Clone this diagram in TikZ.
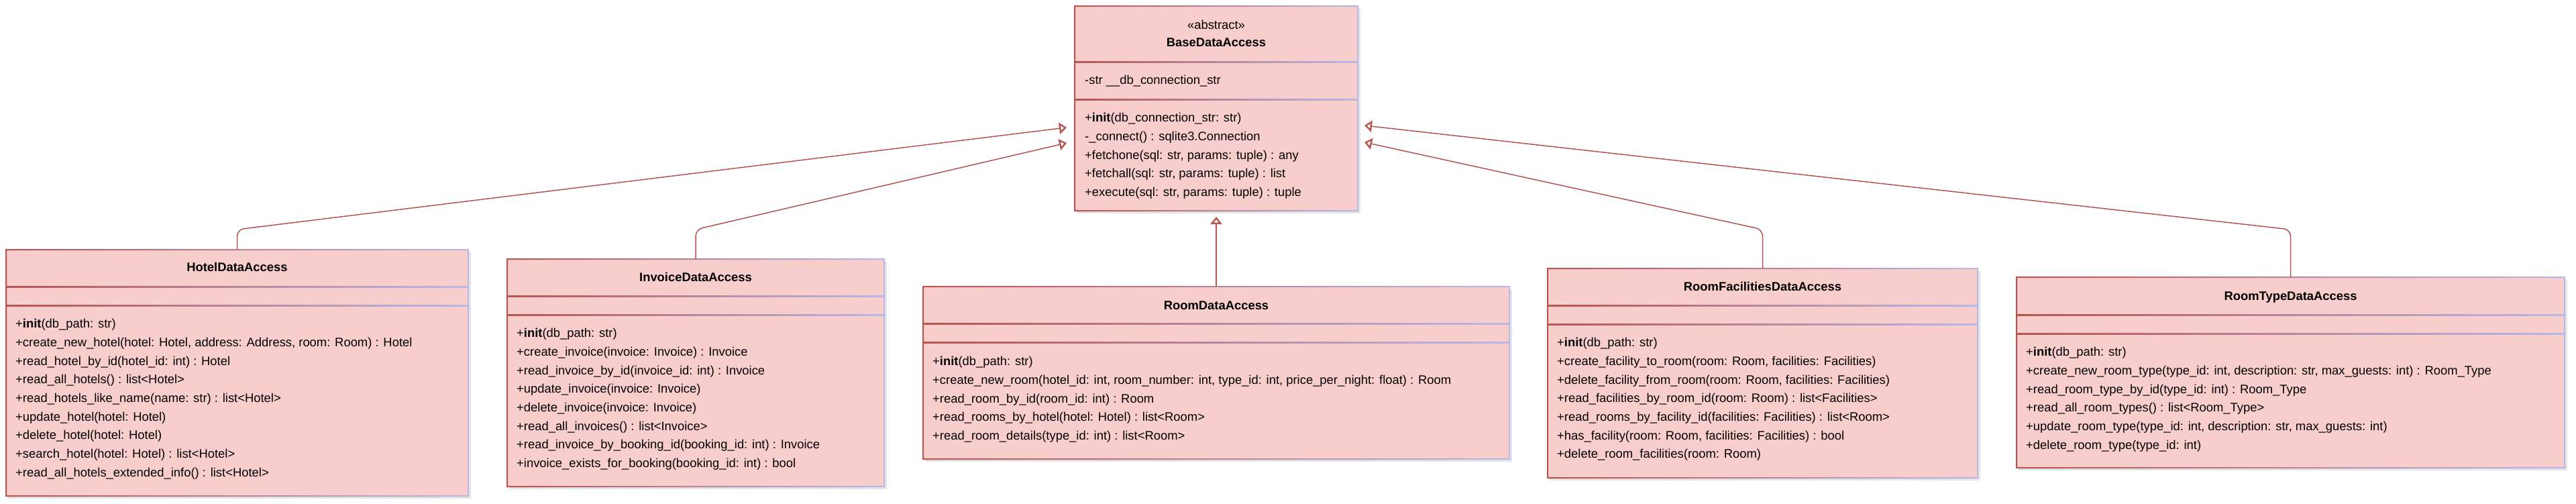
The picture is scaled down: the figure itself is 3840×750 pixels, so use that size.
\documentclass[tikz,border=0pt]{standalone}
\usepackage{fontspec}
\setmainfont{Liberation Sans}
\usetikzlibrary{arrows.meta}
\definecolor{cfill}{HTML}{F8CECC}
\definecolor{cstroke}{HTML}{B85450}
\definecolor{clav}{HTML}{B8B8E8}
\tikzset{
  classbox/.style={draw=none, fill=cfill, inner sep=0pt, outer sep=0pt, anchor=north west},
  mtext/.style={inner sep=0pt, anchor=base west, font=\fontsize{18.4}{27.7}\selectfont},
  ttext/.style={inner sep=0pt, anchor=base, font=\fontsize{18.4}{27.7}\selectfont\bfseries},
  inherit/.style={draw=cstroke, line width=1.5pt, rounded corners=10pt,
    -{Triangle[open, length=11pt, width=17pt, line width=2.4pt]}},
}
% name, x1, y1, x2, y2, div1, div2
\newcommand\classframe[7]{%
  \fill[black, opacity=0.10] (#2+3,#3+4) rectangle (#4+4,#5+4);
  \node[classbox, minimum width={(#4-#2)*1pt}, minimum height={(#5-#3)*1pt}] (#1) at (#2,#3) {};
  \shade[left color=cstroke, right color=clav] (#2,#6-1) rectangle (#4,#6+1);
  \shade[left color=cstroke, right color=clav] (#2,#7-1) rectangle (#4,#7+1);
  \shade[left color=cstroke, right color=clav, even odd rule]
    (#2-1,#3-1) rectangle (#4+1,#5+1) (#2+1,#3+1) rectangle (#4-1,#5-1);
}
\newcommand\ml[5]{\node[mtext] (#1) at (#2,{#3+#4*27.7}) {#5};}
\begin{document}
\begin{tikzpicture}[x=1pt,y=-1pt]
\useasboundingbox[fill=white] (0,0) rectangle (3840,750);

% ---------- BaseDataAccess ----------
\classframe{base}{1602}{9}{2024}{314}{92}{148}
\node[mtext, anchor=base] (bst) at (1813,43.6) {«abstract»};
\node[ttext] (bt) at (1813,69.6) {BaseDataAccess};
\ml{ba}{1617}{125.6}{0}{-str \_\_db\_connection\_str}
\ml{bm1}{1617}{181.6}{0}{+\textbf{init}(db\_connection\_str: str)}
\ml{bm2}{1617}{181.6}{1}{-\_connect() : sqlite3.Connection}
\ml{bm3}{1617}{181.6}{2}{+fetchone(sql: str, params: tuple) : any}
\ml{bm4}{1617}{181.6}{3}{+fetchall(sql: str, params: tuple) : list}
\ml{bm5}{1617}{181.6}{4}{+execute(sql: str, params: tuple) : tuple}

% ---------- HotelDataAccess ----------
\classframe{hotel}{9}{372}{698}{739}{427}{455}
\node[ttext] (ht) at (353.5,404.6) {HotelDataAccess};
\ml{hm1}{23}{488.6}{0}{+\textbf{init}(db\_path: str)}
\ml{hm2}{23}{488.6}{1}{+create\_new\_hotel(hotel: Hotel, address: Address, room: Room) : Hotel}
\ml{hm3}{23}{488.6}{2}{+read\_hotel\_by\_id(hotel\_id: int) : Hotel}
\ml{hm4}{23}{488.6}{3}{+read\_all\_hotels() : list<Hotel>}
\ml{hm5}{23}{488.6}{4}{+read\_hotels\_like\_name(name: str) : list<Hotel>}
\ml{hm6}{23}{488.6}{5}{+update\_hotel(hotel: Hotel)}
\ml{hm7}{23}{488.6}{6}{+delete\_hotel(hotel: Hotel)}
\ml{hm8}{23}{488.6}{7}{+search\_hotel(hotel: Hotel) : list<Hotel>}
\ml{hm9}{23}{488.6}{8}{+read\_all\_hotels\_extended\_info() : list<Hotel>}

% ---------- InvoiceDataAccess ----------
\classframe{invoice}{756}{386}{1318}{725}{441}{469}
\node[ttext] (it) at (1037,419.6) {InvoiceDataAccess};
\ml{im1}{770}{502.6}{0}{+\textbf{init}(db\_path: str)}
\ml{im2}{770}{502.6}{1}{+create\_invoice(invoice: Invoice) : Invoice}
\ml{im3}{770}{502.6}{2}{+read\_invoice\_by\_id(invoice\_id: int) : Invoice}
\ml{im4}{770}{502.6}{3}{+update\_invoice(invoice: Invoice)}
\ml{im5}{770}{502.6}{4}{+delete\_invoice(invoice: Invoice)}
\ml{im6}{770}{502.6}{5}{+read\_all\_invoices() : list<Invoice>}
\ml{im7}{770}{502.6}{6}{+read\_invoice\_by\_booking\_id(booking\_id: int) : Invoice}
\ml{im8}{770}{502.6}{7}{+invoice\_exists\_for\_booking(booking\_id: int) : bool}

% ---------- RoomDataAccess ----------
\classframe{room}{1376}{427}{2250}{684}{482}{510}
\node[ttext] (rt) at (1813,461.6) {RoomDataAccess};
\ml{rm1}{1390}{544.6}{0}{+\textbf{init}(db\_path: str)}
\ml{rm2}{1390}{544.6}{1}{+create\_new\_room(hotel\_id: int, room\_number: int, type\_id: int, price\_per\_night: float) : Room}
\ml{rm3}{1390}{544.6}{2}{+read\_room\_by\_id(room\_id: int) : Room}
\ml{rm4}{1390}{544.6}{3}{+read\_rooms\_by\_hotel(hotel: Hotel) : list<Room>}
\ml{rm5}{1390}{544.6}{4}{+read\_room\_details(type\_id: int) : list<Room>}

% ---------- RoomFacilitiesDataAccess ----------
\classframe{facil}{2307}{400}{2948}{712}{455}{483}
\node[ttext] (ft) at (2627.5,433.6) {RoomFacilitiesDataAccess};
\ml{fm1}{2321}{516.6}{0}{+\textbf{init}(db\_path: str)}
\ml{fm2}{2321}{516.6}{1}{+create\_facility\_to\_room(room: Room, facilities: Facilities)}
\ml{fm3}{2321}{516.6}{2}{+delete\_facility\_from\_room(room: Room, facilities: Facilities)}
\ml{fm4}{2321}{516.6}{3}{+read\_facilities\_by\_room\_id(room: Room) : list<Facilities>}
\ml{fm5}{2321}{516.6}{4}{+read\_rooms\_by\_facility\_id(facilities: Facilities) : list<Room>}
\ml{fm6}{2321}{516.6}{5}{+has\_facility(room: Room, facilities: Facilities) : bool}
\ml{fm7}{2321}{516.6}{6}{+delete\_room\_facilities(room: Room)}

% ---------- RoomTypeDataAccess ----------
\classframe{rtype}{3006}{413}{3823}{697}{469}{497}
\node[ttext] (tt) at (3414.5,447.6) {RoomTypeDataAccess};
\ml{tm1}{3020}{530.6}{0}{+\textbf{init}(db\_path: str)}
\ml{tm2}{3020}{530.6}{1}{+create\_new\_room\_type(type\_id: int, description: str, max\_guests: int) : Room\_Type}
\ml{tm3}{3020}{530.6}{2}{+read\_room\_type\_by\_id(type\_id: int) : Room\_Type}
\ml{tm4}{3020}{530.6}{3}{+read\_all\_room\_types() : list<Room\_Type>}
\ml{tm5}{3020}{530.6}{4}{+update\_room\_type(type\_id: int, description: str, max\_guests: int)}
\ml{tm6}{3020}{530.6}{5}{+delete\_room\_type(type\_id: int)}

% ---------- inheritance connectors ----------
\coordinate (bend) at (0,342);
\coordinate (tipH) at (1590,190);
\coordinate (tipI) at (1590,213);
\coordinate (tipT) at (2034,187);
\coordinate (tipF) at (2034,212);
\coordinate (tipR) at ([yshift=-9pt]base.south);
\draw[inherit] (hotel.north) -- (hotel.north |- bend) -- (tipH);
\draw[inherit] (invoice.north) -- (invoice.north |- bend) -- (tipI);
\draw[inherit] (facil.north) -- (facil.north |- bend) -- (tipF);
\draw[inherit] (rtype.north) -- (rtype.north |- bend) -- (tipT);
\draw[inherit] (room.north) -- (tipR);
\end{tikzpicture}
\end{document}
